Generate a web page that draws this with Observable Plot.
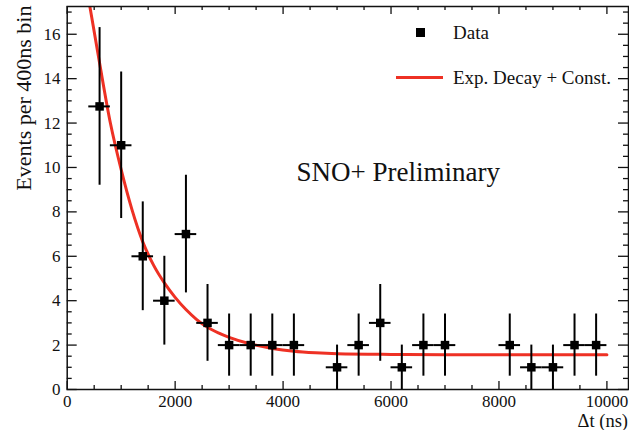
<!DOCTYPE html>
<html>
<head>
<meta charset="utf-8">
<script src="https://cdn.jsdelivr.net/npm/d3@7"></script>
<script src="https://cdn.jsdelivr.net/npm/@observablehq/plot@0.6"></script>
<style>
  html, body { margin: 0; padding: 0; background: #fff; }
  #wrap { position: relative; width: 629px; height: 430px; overflow: hidden; font-family: "Liberation Serif", serif; }
  .leg { position: absolute; font-size: 19px; line-height: 1; color: #111; white-space: nowrap; }
  .sq { position: absolute; background: #000; }
  .ln { position: absolute; background: #ee3124; }
</style>
</head>
<body>
<div id="wrap"></div>
<script>
// ---- data ----
const binCenters = [600, 1000, 1400, 1800, 2200, 2600, 3000, 3400, 3800, 4200, 5000, 5400, 5800, 6200, 6600, 7000, 8200, 8600, 9000, 9400, 9800];
const counts     = [12.75, 11, 6, 4, 7, 3, 2, 2, 2, 2, 1, 2, 3, 1, 2, 2, 2, 1, 1, 2, 2];
const errLow     = [9.2, 7.7, 3.55, 2, 4.35, 1.27, 0.6, 0.6, 0.6, 0.6, 0, 0.6, 1.27, 0, 0.6, 0.6, 0.6, 0, 0, 0.6, 0.6];
const errHigh    = [16.3, 14.3, 8.45, 6, 9.65, 4.73, 3.4, 3.4, 3.4, 3.4, 2, 3.4, 4.73, 2, 3.4, 3.4, 3.4, 2, 2, 3.4, 3.4];
const binWidth = 400;

const fitT = [420, 600, 800, 1000, 1200, 1400, 1600, 1800, 2000, 2200, 2400, 2600, 2800, 3000, 3400, 3800, 4200, 4600, 5000, 6000, 7000, 8000, 9000, 10000];
const fitY = [17.25, 14.7, 12.0, 9.9, 8.1, 6.65, 5.6, 4.8, 4.15, 3.6, 3.15, 2.8, 2.55, 2.35, 2.05, 1.85, 1.72, 1.65, 1.61, 1.58, 1.57, 1.57, 1.57, 1.57];

const xMajor = [0, 2000, 4000, 6000, 8000, 10000];
const xMinor = d3.range(500, 10400, 500).filter(v => v % 2000 !== 0);
const yMajor = [0, 2, 4, 6, 8, 10, 12, 14, 16];
const yMinor = d3.range(0.5, 17.25, 0.5).filter(v => v % 2 !== 0);

const legendLabels = ["Data", "Exp. Decay + Const."];
const yTitle = "Events per 400ns bin";
const xTitle = "Δt (ns)";
const annotation = "SNO+ Preliminary";

// ---- layout ----
const W = 629, H = 430, mL = 66.7, mR = 1, mT = 6, mB = 41;
const fh = H - mT - mB, fw = W - mL - mR;
const red = "#ee3124";

const points = binCenters.map((t, i) => ({t, n: counts[i], lo: errLow[i], hi: errHigh[i], x1: t - binWidth / 2, x2: t + binWidth / 2}));
const fit = fitT.map((t, i) => ({t, y: fitY[i]}));

const chart = Plot.plot({
  width: W, height: H,
  marginLeft: mL, marginRight: mR, marginTop: mT, marginBottom: mB,
  style: {fontFamily: "Liberation Serif", color: "#111", background: "#fff", overflow: "visible"},
  x: {domain: [0, 10400]},
  y: {domain: [0, 17.25]},
  marks: [
    // inward ticks (ROOT style)
    Plot.ruleX(xMajor, {x: d => d, insetTop: fh - 8, strokeWidth: 1.3, stroke: "#111"}),
    Plot.ruleX(xMajor, {x: d => d, insetBottom: fh - 8, strokeWidth: 1.3, stroke: "#111"}),
    Plot.ruleX(xMinor, {x: d => d, insetTop: fh - 4, strokeWidth: 1.3, stroke: "#111"}),
    Plot.ruleX(xMinor, {x: d => d, insetBottom: fh - 4, strokeWidth: 1.3, stroke: "#111"}),
    Plot.ruleY(yMajor, {y: d => d, insetRight: fw - 10, strokeWidth: 1.3, stroke: "#111"}),
    Plot.ruleY(yMajor, {y: d => d, insetLeft: fw - 10, strokeWidth: 1.3, stroke: "#111"}),
    Plot.ruleY(yMinor, {y: d => d, insetRight: fw - 5, strokeWidth: 1.3, stroke: "#111"}),
    Plot.ruleY(yMinor, {y: d => d, insetLeft: fw - 5, strokeWidth: 1.3, stroke: "#111"}),
    Plot.axisX(xMajor, {tickSize: 0, tickPadding: 5, fontSize: 17, tickFormat: d3.format("d"), label: null}),
    Plot.axisY(yMajor, {tickSize: 0, tickPadding: 6.7, fontSize: 17, tickFormat: d3.format("d"), label: null}),
    // fit curve
    Plot.line(fit, {x: "t", y: "y", stroke: red, strokeWidth: 3, curve: "monotone-x", clip: true}),
    // data with error bars
    Plot.ruleX(points, {x: "t", y1: "lo", y2: "hi", stroke: "#000", strokeWidth: 2}),
    Plot.ruleY(points, {y: "n", x1: "x1", x2: "x2", stroke: "#000", strokeWidth: 2}),
    Plot.dot(points, {x: "t", y: "n", symbol: "square", r: 4.8, fill: "#000", stroke: "none"}),
    Plot.frame({stroke: "#111", strokeWidth: 1.5}),
    // texts
    Plot.text([annotation], {text: d => d, frameAnchor: "top-left", lineAnchor: "middle", dx: 229.3, dy: 166, textAnchor: "start", fontSize: 27, fill: "#111"}),
    Plot.text([yTitle], {text: d => d, frameAnchor: "top-left", lineAnchor: "middle", dx: -43.7, dy: -1, rotate: -90, textAnchor: "end", fontSize: 22, fill: "#111"}),
    Plot.text([xTitle], {text: d => d, frameAnchor: "bottom-right", lineAnchor: "middle", dx: -0.5, dy: 31.5, textAnchor: "end", fontSize: 18.5, fill: "#111"})
  ]
});

const wrap = document.getElementById("wrap");
wrap.appendChild(chart);

// legend overlay
const sq = document.createElement("div");
sq.className = "sq";
Object.assign(sq.style, {left: "416px", top: "28px", width: "8.5px", height: "8.5px"});
wrap.appendChild(sq);
const ln = document.createElement("div");
ln.className = "ln";
Object.assign(ln.style, {left: "396px", top: "75.5px", width: "47px", height: "3px"});
wrap.appendChild(ln);
legendLabels.forEach((lab, i) => {
  const el = document.createElement("div");
  el.className = "leg";
  el.textContent = lab;
  Object.assign(el.style, {left: "453px", top: (i === 0 ? 23 : 68) + "px"});
  wrap.appendChild(el);
});
</script>
</body>
</html>
